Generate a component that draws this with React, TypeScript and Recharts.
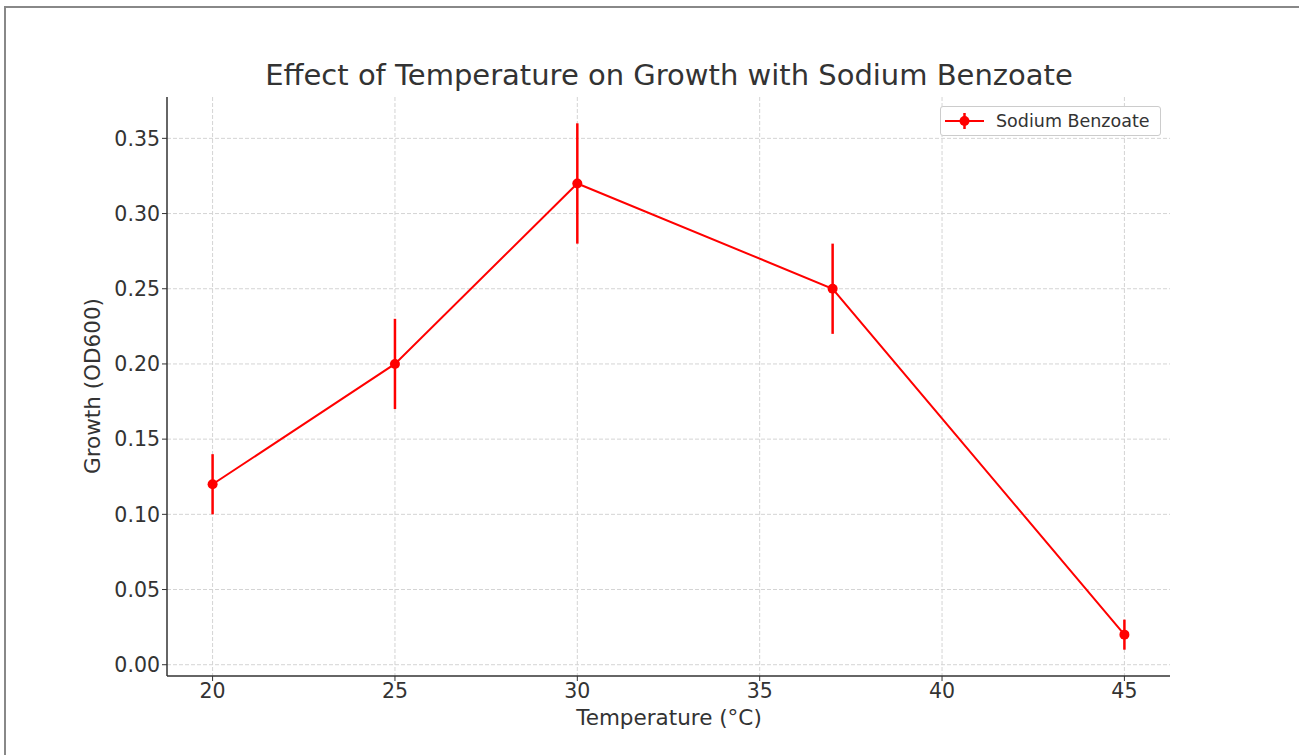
import React from "react";
import { LineChart, Line, XAxis, YAxis, CartesianGrid, ErrorBar } from "recharts";

const temperatures = [20, 25, 30, 37, 45];
const growth = [0.12, 0.2, 0.32, 0.25, 0.02];
const growthErr = [0.02, 0.03, 0.04, 0.03, 0.01];
const xTicks = [20, 25, 30, 35, 40, 45];
const yTicks = [0, 0.05, 0.1, 0.15, 0.2, 0.25, 0.3, 0.35];

const data = temperatures.map((t, i) => ({ temp: t, growth: growth[i], err: growthErr[i] }));

const FONT = "'DejaVu Sans', sans-serif";
const TEXT = "#333333";
const RED = "#ff0000";

function LegendBox() {
  return (
    <div
      style={{
        position: "absolute",
        left: 940,
        top: 106,
        width: 221,
        height: 30,
        boxSizing: "border-box",
        display: "flex",
        alignItems: "center",
        border: "1px solid #cccccc",
        borderRadius: 3,
        background: "#fff",
        paddingLeft: 4,
        fontFamily: FONT,
        fontSize: 17.5,
        color: TEXT,
      }}
    >
      <svg width={39} height={20} style={{ marginRight: 12 }}>
        <line x1={0} y1={10} x2={39} y2={10} stroke={RED} strokeWidth={2} />
        <line x1={19.5} y1={2} x2={19.5} y2={18} stroke={RED} strokeWidth={2.5} />
        <circle cx={19.5} cy={10} r={5} fill={RED} />
      </svg>
      <span>Sodium Benzoate</span>
    </div>
  );
}

export default function App() {
  return (
    <div style={{ position: "absolute", left: 0, top: 0, width: 1299, height: 755, background: "#fff" }}>
      <div
        style={{
          position: "absolute",
          left: 4,
          top: 6,
          right: 0,
          bottom: 0,
          borderTop: "2px solid #888",
          borderLeft: "2px solid #888",
        }}
      />
      <div
        style={{
          position: "absolute",
          left: 168,
          width: 1002,
          top: 61,
          textAlign: "center",
          fontFamily: FONT,
          fontSize: 29,
          lineHeight: 1,
          color: TEXT,
        }}
      >
        Effect of Temperature on Growth with Sodium Benzoate
      </div>
      <div
        style={{
          position: "absolute",
          left: 168,
          width: 1002,
          top: 707,
          textAlign: "center",
          fontFamily: FONT,
          fontSize: 21.5,
          lineHeight: 1,
          color: TEXT,
        }}
      >
        Temperature (°C)
      </div>
      <div
        style={{
          position: "absolute",
          left: 93,
          top: 386,
          transform: "translate(-50%, -50%) rotate(-90deg)",
          whiteSpace: "nowrap",
          fontFamily: FONT,
          fontSize: 21.5,
          lineHeight: 1,
          color: TEXT,
        }}
      >
        Growth (OD600)
      </div>
      <div style={{ position: "absolute", left: 0, top: 0 }}>
        <LineChart width={1299} height={755} data={data} margin={{ top: 97, right: 129, left: 87, bottom: 19 }}>
          <CartesianGrid
            stroke="#d4d4d4"
            strokeDasharray="4 2"
            horizontalValues={yTicks}
            verticalValues={xTicks}
          />
          <XAxis
            dataKey="temp"
            type="number"
            domain={[18.75, 46.25]}
            ticks={xTicks}
            allowDataOverflow
            height={60}
            tick={{ fontSize: 20.5, fill: TEXT, fontFamily: FONT }}
            tickSize={5}
            axisLine={{ stroke: "#333", strokeWidth: 1.5 }}
            tickLine={{ stroke: "#333" }}
          />
          <YAxis
            type="number"
            domain={[-0.0075, 0.3775]}
            ticks={yTicks}
            allowDataOverflow
            width={80}
            tickFormatter={(v: number) => v.toFixed(2)}
            tick={{ fontSize: 20.5, fill: TEXT, fontFamily: FONT }}
            tickSize={5}
            axisLine={{ stroke: "#333", strokeWidth: 1.5 }}
            tickLine={{ stroke: "#333" }}
          />
          <Line
            dataKey="growth"
            name="Sodium Benzoate"
            stroke={RED}
            strokeWidth={2}
            dot={{ r: 5, fill: RED, stroke: RED, strokeWidth: 0 }}
            activeDot={false}
            isAnimationActive={false}
          >
            <ErrorBar dataKey="err" width={0} stroke={RED} strokeWidth={2.5} direction="y" />
          </Line>
        </LineChart>
      </div>
      <LegendBox />
    </div>
  );
}
